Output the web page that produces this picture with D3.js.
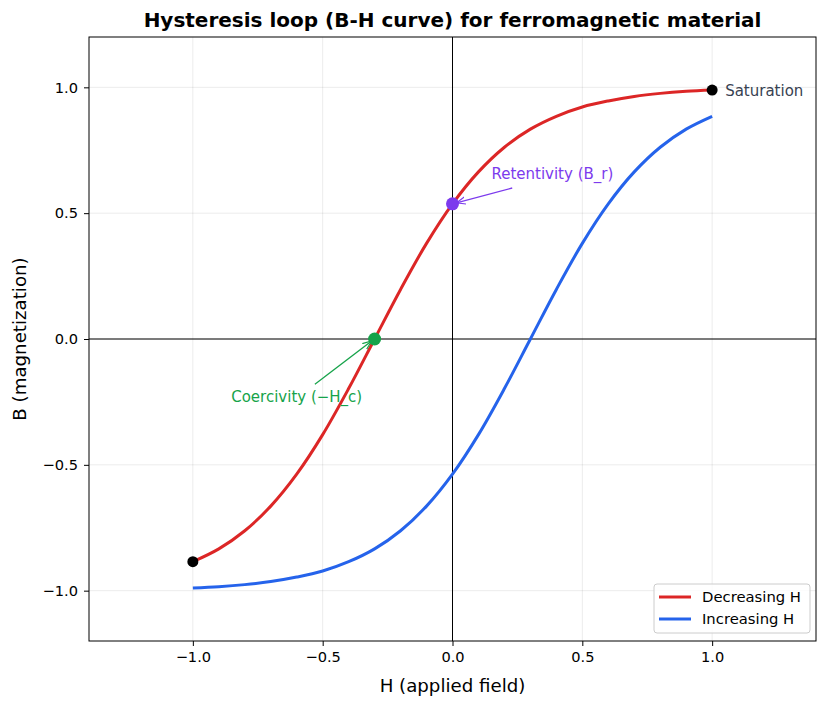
<!DOCTYPE html>
<html>
<head>
<meta charset="utf-8">
<script src="https://cdn.jsdelivr.net/npm/d3@7"></script>
<style>
  body { margin: 0; background: #fff; }
  text { font-family: "DejaVu Sans", sans-serif; }
</style>
</head>
<body>
<svg id="chart" width="827" height="707"></svg>
<script>
// H samples (applied field)
const hValues = [-1.0, -0.9, -0.8, -0.7, -0.6, -0.5, -0.4, -0.3, -0.2, -0.1, 0.0,
                 0.1, 0.2, 0.3, 0.4, 0.5, 0.6, 0.7, 0.8, 0.9, 1.0];
// B, upper branch (decreasing H)
const bDecreasing = [-0.885, -0.834, -0.762, -0.664, -0.537, -0.380, -0.197, 0.0, 0.197, 0.380, 0.537,
                     0.664, 0.762, 0.834, 0.885, 0.922, 0.946, 0.964, 0.976, 0.984, 0.989];
// lower branch (increasing H)
const bIncreasing = [-0.989, -0.984, -0.976, -0.964, -0.946, -0.922, -0.885, -0.834, -0.762, -0.664, -0.537,
                     -0.380, -0.197, 0.0, 0.197, 0.380, 0.537, 0.664, 0.762, 0.834, 0.885];
const xTicks = [-1.0, -0.5, 0.0, 0.5, 1.0];
const yTicks = [-1.0, -0.5, 0.0, 0.5, 1.0];
const saturationPts = [[1.0, 0.989], [-1.0, -0.885]];
const retentivity = [0.0, 0.537];
const coercivity = [-0.3, 0.0];

const svg = d3.select('#chart');
const margin = { top: 37, right: 11, bottom: 66, left: 89 };
const width = +svg.attr('width');
const height = +svg.attr('height');
const innerWidth = width - margin.left - margin.right;
const innerHeight = height - margin.top - margin.bottom;

const g = svg.append('g')
    .attr('transform', `translate(${margin.left},${margin.top})`);

const xScale = d3.scaleLinear().domain([-1.4, 1.4]).range([0, innerWidth]);
const yScale = d3.scaleLinear().domain([-1.2, 1.2]).range([innerHeight, 0]);

// grid
g.append('g').selectAll('line').data(xTicks).enter().append('line')
    .attr('x1', d => xScale(d)).attr('x2', d => xScale(d))
    .attr('y1', 0).attr('y2', innerHeight)
    .attr('stroke', '#000').attr('stroke-opacity', 0.1).attr('stroke-width', 0.8);
g.append('g').selectAll('line').data(yTicks).enter().append('line')
    .attr('y1', d => yScale(d)).attr('y2', d => yScale(d))
    .attr('x1', 0).attr('x2', innerWidth)
    .attr('stroke', '#000').attr('stroke-opacity', 0.1).attr('stroke-width', 0.8);

// zero lines
g.append('line')
    .attr('x1', 0).attr('x2', innerWidth)
    .attr('y1', yScale(0)).attr('y2', yScale(0))
    .attr('stroke', '#000').attr('stroke-width', 1);
g.append('line')
    .attr('x1', xScale(0)).attr('x2', xScale(0))
    .attr('y1', 0).attr('y2', innerHeight)
    .attr('stroke', '#000').attr('stroke-width', 1);

// axes
const fmt = d => d3.format('.1f')(d).replace('-', '\u2212');
const xAxisG = g.append('g')
    .attr('transform', `translate(0,${innerHeight})`)
    .call(d3.axisBottom(xScale).tickValues(xTicks).tickFormat(fmt).tickSize(5).tickPadding(6));
const yAxisG = g.append('g')
    .call(d3.axisLeft(yScale).tickValues(yTicks).tickFormat(fmt).tickSize(5).tickPadding(6));
[xAxisG, yAxisG].forEach(a => {
  a.select('.domain').remove();
  a.selectAll('text').attr('font-size', 14.6).attr('fill', '#000')
    .style('font-family', '"DejaVu Sans", sans-serif');
  a.selectAll('line').attr('stroke', '#000');
});

// frame
g.append('rect')
    .attr('width', innerWidth).attr('height', innerHeight)
    .attr('fill', 'none').attr('stroke', '#000').attr('stroke-width', 1);

// curves
const line = d3.line()
    .x(d => xScale(d[0]))
    .y(d => yScale(d[1]))
    .curve(d3.curveCatmullRom);

const series = [
  { name: 'Decreasing H', color: '#dc2626', values: hValues.map((h, i) => [h, bDecreasing[i]]) },
  { name: 'Increasing H', color: '#2563eb', values: hValues.map((h, i) => [h, bIncreasing[i]]) }
];

g.selectAll('.curve').data(series).enter().append('path')
    .attr('class', 'curve')
    .attr('d', d => line(d.values))
    .attr('fill', 'none')
    .attr('stroke', d => d.color)
    .attr('stroke-width', 3);

// saturation points
g.selectAll('.sat').data(saturationPts).enter().append('circle')
    .attr('class', 'sat')
    .attr('cx', d => xScale(d[0])).attr('cy', d => yScale(d[1]))
    .attr('r', 5.5).attr('fill', '#000');

g.append('text')
    .attr('x', xScale(saturationPts[0][0]) + 13)
    .attr('y', yScale(saturationPts[0][1]) + 6)
    .attr('font-size', 15).attr('fill', '#374151')
    .text('Saturation');

// arrow markers
const defs = svg.append('defs');
[['arrPurple', '#7c3aed'], ['arrGreen', '#16a34a']].forEach(([id, c]) => {
  defs.append('marker')
      .attr('id', id).attr('viewBox', '0 0 10 10')
      .attr('refX', 10).attr('refY', 5)
      .attr('markerWidth', 9).attr('markerHeight', 9)
      .attr('markerUnits', 'userSpaceOnUse')
      .attr('orient', 'auto')
    .append('path')
      .attr('d', 'M0,1 L10,5 L0,9')
      .attr('fill', 'none').attr('stroke', c).attr('stroke-width', 1.3);
});

// retentivity
const rx = xScale(retentivity[0]), ry = yScale(retentivity[1]);
g.append('line')
    .attr('x1', xScale(0.23)).attr('y1', yScale(0.6))
    .attr('x2', rx + 4).attr('y2', ry - 1)
    .attr('stroke', '#7c3aed').attr('stroke-width', 1.3)
    .attr('marker-end', 'url(#arrPurple)');
g.append('circle')
    .attr('cx', rx).attr('cy', ry).attr('r', 6.5).attr('fill', '#7c3aed');
g.append('text')
    .attr('x', xScale(0.15)).attr('y', yScale(0.635))
    .attr('font-size', 15).attr('fill', '#7c3aed')
    .text('Retentivity (B_r)');

// coercivity
const cx = xScale(coercivity[0]), cy = yScale(coercivity[1]);
g.append('line')
    .attr('x1', xScale(-0.53)).attr('y1', yScale(-0.18))
    .attr('x2', cx - 3).attr('y2', cy + 2)
    .attr('stroke', '#16a34a').attr('stroke-width', 1.3)
    .attr('marker-end', 'url(#arrGreen)');
g.append('circle')
    .attr('cx', cx).attr('cy', cy).attr('r', 6.5).attr('fill', '#16a34a');
g.append('text')
    .attr('x', xScale(-0.6)).attr('y', yScale(-0.25))
    .attr('text-anchor', 'middle')
    .attr('font-size', 15).attr('fill', '#16a34a')
    .text('Coercivity (\u2212H_c)');

// title & axis labels
svg.append('text')
    .attr('x', margin.left + innerWidth / 2).attr('y', 27)
    .attr('text-anchor', 'middle')
    .attr('font-size', 20).attr('font-weight', 'bold')
    .text('Hysteresis loop (B-H curve) for ferromagnetic material');
svg.append('text')
    .attr('x', margin.left + innerWidth / 2).attr('y', 692)
    .attr('text-anchor', 'middle').attr('font-size', 18.2)
    .text('H (applied field)');
svg.append('text')
    .attr('transform', `translate(26,${margin.top + innerHeight / 2}) rotate(-90)`)
    .attr('text-anchor', 'middle').attr('font-size', 18.2)
    .text('B (magnetization)');

// legend
const legend = g.append('g')
    .attr('transform', `translate(${innerWidth - 162},${innerHeight - 57})`);
legend.append('rect')
    .attr('width', 156).attr('height', 49).attr('rx', 3)
    .attr('fill', '#fff').attr('fill-opacity', 0.8)
    .attr('stroke', '#ccc').attr('stroke-width', 1);
const items = legend.selectAll('.item').data(series).enter().append('g')
    .attr('transform', (d, i) => `translate(0,${13 + i * 22})`);
items.append('line')
    .attr('x1', 5).attr('x2', 37)
    .attr('stroke', d => d.color).attr('stroke-width', 3);
items.append('text')
    .attr('x', 48).attr('y', 5)
    .attr('font-size', 14.8)
    .text(d => d.name);
</script>
</body>
</html>
